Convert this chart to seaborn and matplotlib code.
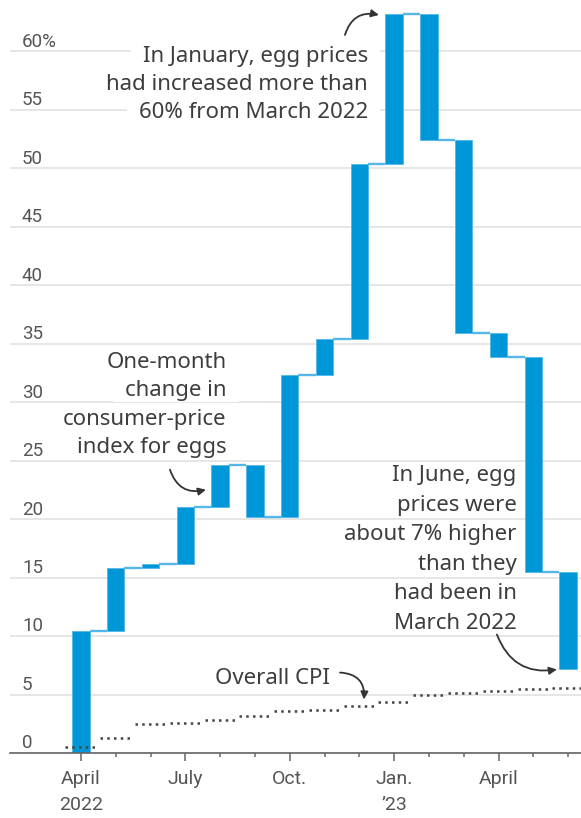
import numpy as np
import pandas as pd
import matplotlib
matplotlib.use("Agg")
import matplotlib.pyplot as plt
import matplotlib.transforms as mtransforms
from matplotlib.patches import Rectangle
from matplotlib import font_manager
import seaborn as sns

# ---------------- data ----------------
months = ["Apr 2022", "May", "Jun", "Jul", "Aug", "Sep", "Oct", "Nov", "Dec",
          "Jan 2023", "Feb", "Mar", "Apr", "May", "Jun"]
# cumulative % change in egg CPI since March 2022
egg_cum = [10.4, 15.8, 16.2, 21.0, 24.6, 20.2, 32.3, 35.4, 50.4,
           63.2, 52.4, 35.9, 33.9, 15.5, 7.2]
# cumulative % change in overall CPI since March 2022
cpi_cum = [0.5, 1.3, 2.5, 2.6, 2.8, 3.2, 3.6, 3.7, 4.0,
           4.4, 5.0, 5.1, 5.3, 5.5, 5.6]
y_ticks = [0, 5, 10, 15, 20, 25, 30, 35, 40, 45, 50, 55, 60]
y_labels = ["0", "5", "10", "15", "20", "25", "30", "35", "40", "45", "50", "55", "60%"]
x_tick_pos = [0, 3, 6, 9, 12]
x_tick_labels = ["April\n2022", "July", "Oct.", "Jan.\n\u201923", "April"]

# ---------------- style ----------------
sns.set_style("white")
names = {f.name for f in font_manager.fontManager.ttflist}
NARROW = "Liberation Sans Narrow" if "Liberation Sans Narrow" in names else "Roboto"
MAIN = "Noto Sans"
plt.rcParams["font.family"] = [MAIN, "DejaVu Sans"]

BLUE = "#0097d9"
LIGHT_BLUE = "#55b6e8"
TEXT = "#3d3d3d"
TICK = "#555555"

W, H = 581, 818
fig = plt.figure(figsize=(W / 100, H / 100), dpi=100)
ax = fig.add_axes([10 / W, 65 / H, 571 / W, 753 / H])

x = np.arange(len(months))
prev = np.concatenate([[0.0], np.array(egg_cum[:-1])])
df = pd.DataFrame({"x": x, "change": np.array(egg_cum) - prev, "start": prev})

sns.barplot(data=df, x="x", y="change", native_scale=True, width=0.5,
            color=BLUE, saturation=1, errorbar=None, bottom=df["start"].to_numpy(),
            edgecolor=LIGHT_BLUE, linewidth=0.6, zorder=3, ax=ax)

# connector lines between bars
ax.hlines(egg_cum[:-1], x[:-1] + 0.25, x[1:] - 0.25, color=LIGHT_BLUE, lw=1.7, zorder=3)

# overall CPI dotted steps
ax.hlines(cpi_cum, x - 0.45, x + 0.45, color="#444444", lw=1.8,
          linestyles=[(0, (1.0, 1.7))], zorder=4)

ax.set_xlim(-2.04, 14.37)
ax.set_ylim(0, 64.4)
ax.set_xlabel("")
ax.set_ylabel("")

# grid
ax.set_yticks(y_ticks)
ax.tick_params(axis="y", length=0, labelleft=False)
ax.grid(axis="y", color="#e6e6e6", lw=1.4)
ax.set_axisbelow(True)
for s in ["top", "right", "left"]:
    ax.spines[s].set_visible(False)
ax.spines["bottom"].set_color("#666666")
ax.spines["bottom"].set_linewidth(1.2)
ax.spines["bottom"].set_zorder(5)

ylab_tr = mtransforms.offset_copy(
    mtransforms.blended_transform_factory(ax.transAxes, ax.transData),
    fig=fig, x=0, y=3.3, units="points")
for v, lab in zip(y_ticks, y_labels):
    ax.text(12 / 571, v, lab, transform=ylab_tr, ha="left", va="baseline",
            fontsize=13.5, family=NARROW, color=TICK)

# x ticks
ax.set_xticks(x_tick_pos)
ax.set_xticklabels(x_tick_labels, family=NARROW, fontsize=14, color=TICK,
                   linespacing=1.6)
ax.set_xticks(x, minor=True)
ax.tick_params(axis="x", which="major", length=6, width=1.1, color="#666666",
               pad=6, bottom=True)
ax.tick_params(axis="x", which="minor", length=3, width=1.1, color="#666666",
               bottom=True)

# ---------------- annotations ----------------
line_texts = []

def block(lines, xr, ys, ha="right"):
    for s, yy in zip(lines, ys):
        t = ax.text(xr, yy, s, ha=ha, va="baseline", fontsize=16, color=TEXT,
                    zorder=2)
        line_texts.append(t)

block(["In January, egg prices", "had increased more than", "60% from March 2022"],
      8.247, [59.13, 56.71, 54.29])
block(["One-month", "change in", "consumer-price", "index for eggs"],
      4.187, [32.92, 30.50, 28.08, 25.67])
block(["In June, egg", "prices were", "about 7% higher", "than they",
       "had been in", "March 2022"],
      12.52, [23.23, 20.71, 18.19, 15.67, 13.15, 10.63])
block(["Overall CPI"], 3.851, [5.90], ha="left")

arrow_kw = dict(arrowstyle="-|>,head_length=0.45,head_width=0.22", color="#333333",
                lw=1.3, shrinkA=0, shrinkB=0)
for start, end, rad in [((7.586, 61.41), (8.563, 63.12), -0.45),
                        ((2.557, 24.23), (3.592, 22.52), 0.45),
                        ((11.954, 10.13), (13.678, 7.14), 0.4),
                        ((7.443, 6.88), (8.132, 4.57), -0.5)]:
    ax.annotate("", xy=end, xytext=start,
                arrowprops=dict(connectionstyle=f"arc3,rad={rad}", **arrow_kw),
                zorder=4)

# white boxes behind each text line (hide gridlines)
fig.canvas.draw()
r = fig.canvas.get_renderer()
for t in line_texts:
    bb = t.get_window_extent(r)
    rect = Rectangle((bb.x0 - 12, bb.y0 - 1), bb.width + 24, bb.height + 2,
                     transform=mtransforms.IdentityTransform(),
                     facecolor="white", edgecolor="none", zorder=1)
    ax.add_artist(rect)

fig.savefig("out.png", dpi=100)
